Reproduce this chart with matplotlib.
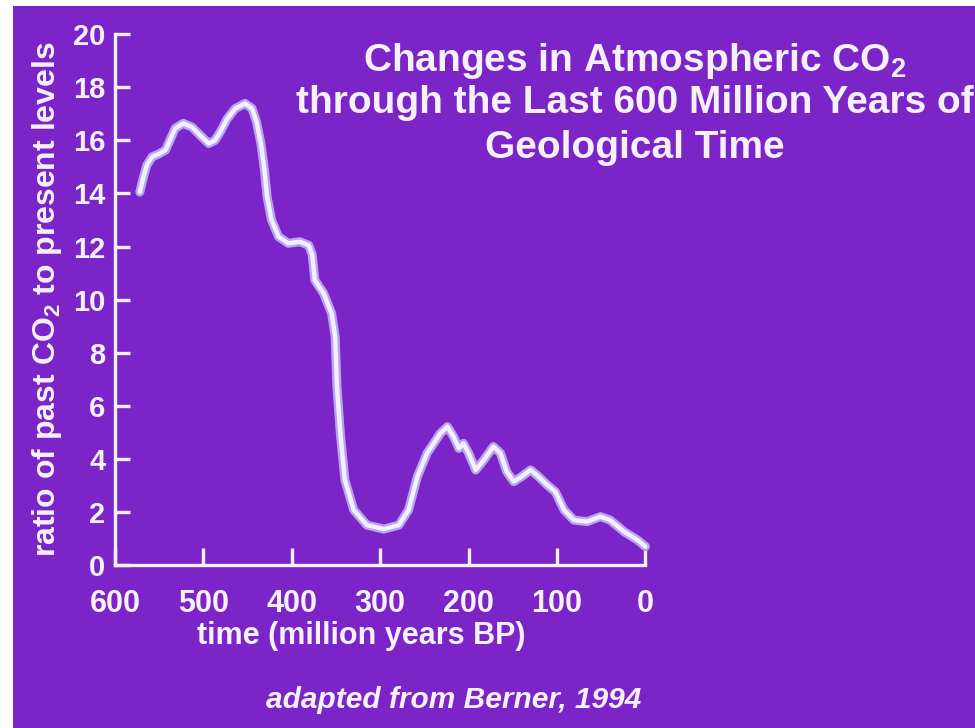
import matplotlib
matplotlib.use("Agg")
import matplotlib.pyplot as plt
from matplotlib.patches import Rectangle

# ratio of past CO2 to present (Berner 1994)
age_myr = [572, 568, 564, 558, 551, 543, 538, 532, 523, 513, 504, 494,
           487, 481, 473, 464, 453, 445, 440, 435, 431, 428, 423, 415,
           404, 391, 381, 377, 374, 364, 355, 351, 349, 345, 340, 330,
           315, 296, 279, 268, 258, 247, 232, 224, 217, 211, 206, 200,
           192, 183, 172, 164, 157, 149, 140, 130, 123, 111, 102, 92,
           81, 66, 51, 40, 24, 9, 0]
co2_ratio = [14.05, 14.6, 15.07, 15.38, 15.48, 15.63, 16.0, 16.45, 16.64, 16.5, 16.2, 15.88,
             16.0, 16.32, 16.82, 17.2, 17.39, 17.2, 16.7, 15.88, 14.88, 13.87, 13.0, 12.37,
             12.12, 12.18, 12.05, 11.7, 10.73, 10.23, 9.48, 8.6, 6.72, 4.9, 3.2, 2.07,
             1.5, 1.35, 1.5, 2.07, 3.33, 4.21, 4.96, 5.21, 4.83, 4.39, 4.58, 4.21,
             3.58, 3.95, 4.46, 4.21, 3.52, 3.14, 3.33, 3.58, 3.39, 3.01, 2.76, 2.07,
             1.69, 1.63, 1.82, 1.69, 1.25, 0.94, 0.69]

x_ticks = [600, 500, 400, 300, 200, 100, 0]
y_ticks = [0, 2, 4, 6, 8, 10, 12, 14, 16, 18, 20]

purple = "#7b24c8"
ink = "#f5f1fb"
sans = ["Liberation Sans", "DejaVu Sans"]

plt.rcParams["mathtext.fontset"] = "custom"
plt.rcParams["mathtext.rm"] = "Liberation Sans:bold"
plt.rcParams["mathtext.default"] = "rm"

fig = plt.figure(figsize=(9.75, 7.28), dpi=100, facecolor="white")
# slide area (photo has a white strip on the left and top)
fig.patches.append(Rectangle((13 / 975, 0), 1, 1 - 6 / 728, transform=fig.transFigure,
                             facecolor=purple, edgecolor="none", zorder=-10))

ax = fig.add_axes([0.118, 0.224, 0.544, 0.729])
ax.set_zorder(2)
ax.set_facecolor("none")
ax.plot(age_myr, co2_ratio, color="#b8a3ee", lw=6.5, solid_capstyle="round",
        solid_joinstyle="round", clip_on=False)
ax.plot(age_myr, co2_ratio, color="#f3effc", lw=3.2, solid_capstyle="round",
        solid_joinstyle="round", clip_on=False)

ax.set_xlim(600, 0)
ax.set_ylim(0, 20)
ax.set_xticks(x_ticks)
ax.set_yticks(y_ticks)
ax.set_xticklabels([str(v) for v in x_ticks])
ax.set_yticklabels([str(v) for v in y_ticks])

for side in ["top", "right"]:
    ax.spines[side].set_visible(False)
for side in ["left", "bottom"]:
    ax.spines[side].set_color(ink)
    ax.spines[side].set_linewidth(2.4)

ax.tick_params(axis="y", direction="in", length=11, width=2.4, color=ink, pad=7)
ax.tick_params(axis="x", direction="in", length=12, width=2.4, color=ink, pad=17)
for lab in ax.get_yticklabels():
    lab.set_family(sans)
    lab.set_fontweight("bold")
    lab.set_fontsize(21)
    lab.set_color(ink)
for lab in ax.get_xticklabels():
    lab.set_family(sans)
    lab.set_fontweight("bold")
    lab.set_fontsize(22)
    lab.set_color(ink)

ax.set_ylabel("ratio of past CO$_2$ to present levels", family=sans, fontweight="bold",
              fontsize=23, color=ink)
ax.yaxis.set_label_coords(-0.097, 0.5)
ax.set_xlabel("time (million years BP)", family=sans, fontweight="bold",
              fontsize=22, color=ink)
ax.xaxis.set_label_coords(0.464, -0.105)

title_lines = ["Changes in Atmospheric CO$_2$",
               "through the Last 600 Million Years of",
               "Geological Time"]
title_y = [0.916, 0.858, 0.797]
for line, yy in zip(title_lines, title_y):
    fig.text(0.651, yy, line, ha="center", va="center", family=sans,
             fontweight="bold", fontsize=28, color=ink)

fig.text(0.465, 0.038, "adapted from Berner, 1994", ha="center", va="center",
         family=sans, fontweight="bold", style="italic", fontsize=21.5, color=ink)

fig.savefig("out.png", dpi=100, facecolor=fig.get_facecolor())
